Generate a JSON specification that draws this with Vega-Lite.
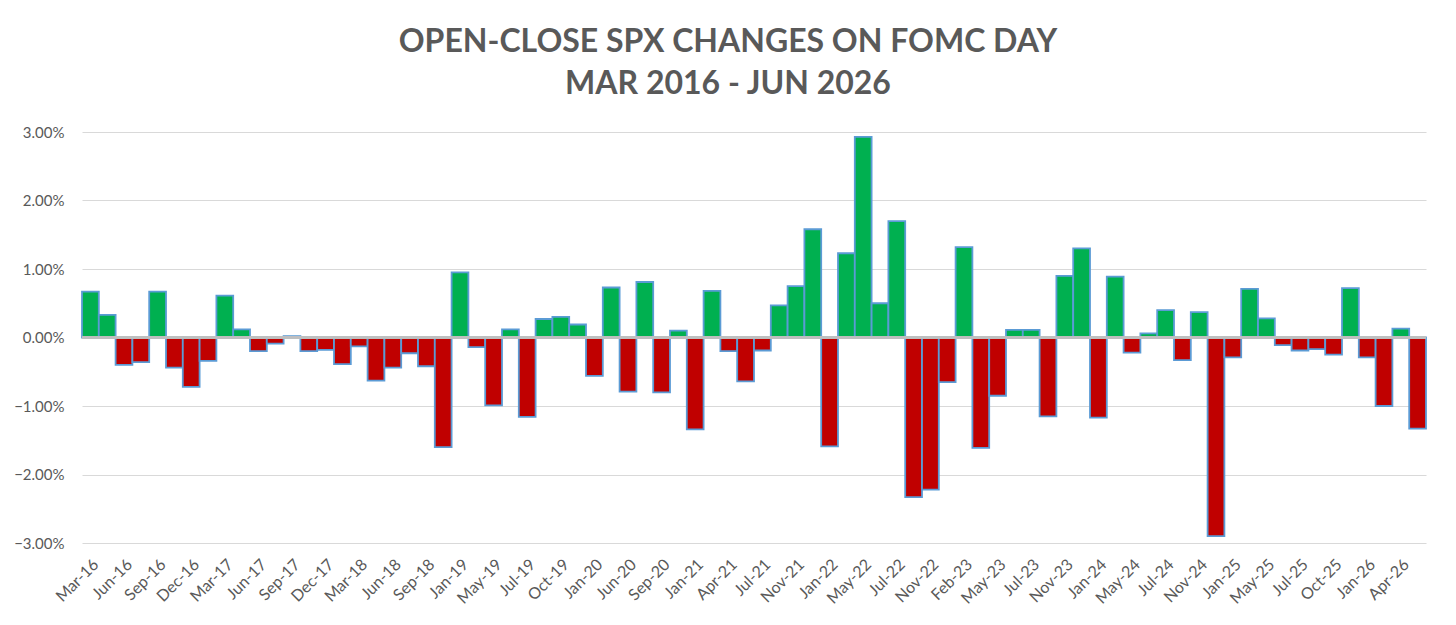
{
  "$schema": "https://vega.github.io/schema/vega-lite/v6.json",
  "width": 1344,
  "height": 411,
  "autosize": "none",
  "padding": {"left": 82, "top": 132, "right": 30, "bottom": 82},
  "background": "white",
  "config": {
    "view": {"stroke": null},
    "font": "Lato"
  },
  "title": {
    "text": ["OPEN-CLOSE SPX CHANGES ON FOMC DAY", "MAR 2016 - JUN 2026"],
    "font": "Lato",
    "fontSize": 32,
    "fontWeight": "bold",
    "color": "#595959",
    "lineHeight": 42,
    "offset": 24,
    "dx": -26
  },
  "data": {
    "values": [
      {"m": "Mar-16", "v": 0.0067},
      {"m": "Apr-16", "v": 0.0033},
      {"m": "Jun-16", "v": -0.0040},
      {"m": "Jul-16", "v": -0.0036},
      {"m": "Sep-16", "v": 0.0067},
      {"m": "Nov-16", "v": -0.0044},
      {"m": "Dec-16", "v": -0.0072},
      {"m": "Feb-17", "v": -0.0034},
      {"m": "Mar-17", "v": 0.0061},
      {"m": "May-17", "v": 0.0012},
      {"m": "Jun-17", "v": -0.0020},
      {"m": "Jul-17", "v": -0.0009},
      {"m": "Sep-17", "v": 0.0002},
      {"m": "Nov-17", "v": -0.0020},
      {"m": "Dec-17", "v": -0.0018},
      {"m": "Jan-18", "v": -0.0039},
      {"m": "Mar-18", "v": -0.0013},
      {"m": "May-18", "v": -0.0063},
      {"m": "Jun-18", "v": -0.0044},
      {"m": "Aug-18", "v": -0.0023},
      {"m": "Sep-18", "v": -0.0042},
      {"m": "Dec-18", "v": -0.0160},
      {"m": "Jan-19", "v": 0.0095},
      {"m": "Mar-19", "v": -0.0014},
      {"m": "May-19", "v": -0.0099},
      {"m": "Jun-19", "v": 0.0012},
      {"m": "Jul-19", "v": -0.0116},
      {"m": "Sep-19", "v": 0.0027},
      {"m": "Oct-19", "v": 0.0030},
      {"m": "Dec-19", "v": 0.0019},
      {"m": "Jan-20", "v": -0.0056},
      {"m": "Apr-20", "v": 0.0073},
      {"m": "Jun-20", "v": -0.0079},
      {"m": "Jul-20", "v": 0.0081},
      {"m": "Sep-20", "v": -0.0080},
      {"m": "Dec-20", "v": 0.0010},
      {"m": "Jan-21", "v": -0.0134},
      {"m": "Mar-21", "v": 0.0068},
      {"m": "Apr-21", "v": -0.0020},
      {"m": "Jun-21", "v": -0.0064},
      {"m": "Jul-21", "v": -0.0019},
      {"m": "Sep-21", "v": 0.0047},
      {"m": "Nov-21", "v": 0.0075},
      {"m": "Dec-21", "v": 0.0158},
      {"m": "Jan-22", "v": -0.0159},
      {"m": "Mar-22", "v": 0.0123},
      {"m": "May-22", "v": 0.0293},
      {"m": "Jun-22", "v": 0.0050},
      {"m": "Jul-22", "v": 0.0170},
      {"m": "Sep-22", "v": -0.0233},
      {"m": "Nov-22", "v": -0.0222},
      {"m": "Dec-22", "v": -0.0065},
      {"m": "Feb-23", "v": 0.0132},
      {"m": "Mar-23", "v": -0.0161},
      {"m": "May-23", "v": -0.0085},
      {"m": "Jun-23", "v": 0.0011},
      {"m": "Jul-23", "v": 0.0011},
      {"m": "Sep-23", "v": -0.0115},
      {"m": "Nov-23", "v": 0.0090},
      {"m": "Dec-23", "v": 0.0130},
      {"m": "Jan-24", "v": -0.0117},
      {"m": "Mar-24", "v": 0.0089},
      {"m": "May-24", "v": -0.0022},
      {"m": "Jun-24", "v": 0.0006},
      {"m": "Jul-24", "v": 0.0040},
      {"m": "Sep-24", "v": -0.0033},
      {"m": "Nov-24", "v": 0.0037},
      {"m": "Dec-24", "v": -0.0290},
      {"m": "Jan-25", "v": -0.0029},
      {"m": "Mar-25", "v": 0.0071},
      {"m": "May-25", "v": 0.0028},
      {"m": "Jun-25", "v": -0.0011},
      {"m": "Jul-25", "v": -0.0019},
      {"m": "Sep-25", "v": -0.0017},
      {"m": "Oct-25", "v": -0.0025},
      {"m": "Dec-25", "v": 0.0072},
      {"m": "Jan-26", "v": -0.0029},
      {"m": "Mar-26", "v": -0.0100},
      {"m": "Apr-26", "v": 0.0013},
      {"m": "Jun-26", "v": -0.0133}
    ]
  },
  "layer": [
    {
      "mark": {"type": "bar", "stroke": "#5b9bd5", "strokeWidth": 1.8},
      "encoding": {
        "x": {
          "field": "m",
          "type": "ordinal",
          "sort": null,
          "scale": {"paddingInner": 0, "paddingOuter": 0},
          "axis": {
            "values": ["Mar-16", "Jun-16", "Sep-16", "Dec-16", "Mar-17", "Jun-17", "Sep-17", "Dec-17", "Mar-18", "Jun-18", "Sep-18", "Jan-19", "May-19", "Jul-19", "Oct-19", "Jan-20", "Jun-20", "Sep-20", "Jan-21", "Apr-21", "Jul-21", "Nov-21", "Jan-22", "May-22", "Jul-22", "Nov-22", "Feb-23", "May-23", "Jul-23", "Nov-23", "Jan-24", "May-24", "Jul-24", "Nov-24", "Jan-25", "May-25", "Jul-25", "Oct-25", "Jan-26", "Apr-26"],
            "labelAngle": -45,
            "domain": false,
            "ticks": false,
            "grid": false,
            "title": null,
            "labelFont": "Lato",
            "labelFontSize": 16,
            "labelColor": "#595959",
            "labelPadding": 13
          }
        },
        "y": {
          "field": "v",
          "type": "quantitative",
          "scale": {"domain": [-0.03, 0.03], "nice": false},
          "axis": {
            "values": [-0.03, -0.02, -0.01, 0, 0.01, 0.02, 0.03],
            "format": ".2%",
            "grid": true,
            "gridColor": "#d9d9d9",
            "gridWidth": 1,
            "domain": false,
            "ticks": false,
            "title": null,
            "labelFont": "Lato",
            "labelFontSize": 15,
            "labelColor": "#595959",
            "labelPadding": 18
          }
        },
        "fill": {
          "condition": {"test": "datum.v >= 0", "value": "#00b050"},
          "value": "#c00000"
        }
      }
    },
    {
      "mark": {"type": "rule", "color": "#bfbfbf", "strokeWidth": 1.5},
      "encoding": {"y": {"datum": 0}}
    }
  ]
}
